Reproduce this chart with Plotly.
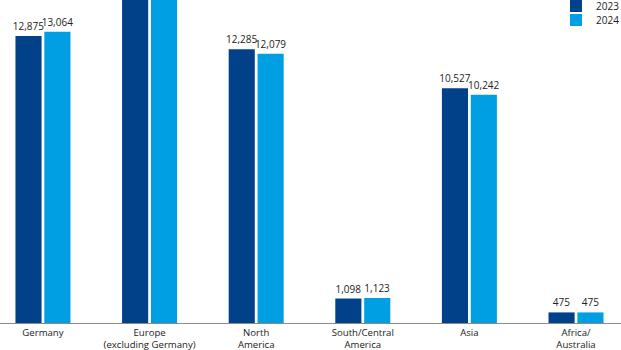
import plotly.graph_objects as go

categories = ["Germany", "Europe<br>(excluding Germany)", "North<br>America",
              "South/Central<br>America", "Asia", "Africa/<br>Australia"]
values_2023 = [12875, 19850, 12285, 1098, 10527, 475]
values_2024 = [13064, 20310, 12079, 1123, 10242, 475]
series_names = ["2023", "2024"]

COL_2023 = "#00418A"
COL_2024 = "#009FE3"
FONT = "Open Sans"
Y_MAX = 14490

xs = list(range(len(categories)))

def labels(vals):
    # labels of bars that run past the top of the visible area are not shown
    return [f"{v:,}" if v < Y_MAX * 0.93 else "" for v in vals]

fig = go.Figure()
fig.add_trace(go.Bar(
    x=xs, y=values_2023, name=series_names[0], marker_color=COL_2023,
    marker_line_width=0, width=0.245, offset=-0.258,
    text=labels(values_2023), textposition="outside", constraintext="none",
    textfont=dict(family=FONT, size=10, color="#222222"),
    cliponaxis=True, legend="legend",
))
fig.add_trace(go.Bar(
    x=xs, y=values_2024, name=series_names[1], marker_color=COL_2024,
    marker_line_width=0, width=0.245, offset=0.013,
    text=labels(values_2024), textposition="outside", constraintext="none",
    textfont=dict(family=FONT, size=10, color="#222222"),
    cliponaxis=True, legend="legend2",
))

legend_common = dict(
    xanchor="left", yanchor="middle", bgcolor="rgba(0,0,0,0)",
    font=dict(family=FONT, size=10, color="#222222"),
    itemwidth=30, borderwidth=0,
)

fig.update_layout(
    width=621, height=350,
    margin=dict(l=0, r=0, t=0, b=27, autoexpand=False),
    paper_bgcolor="white", plot_bgcolor="white",
    barmode="overlay",
    showlegend=True,
    legend=dict(x=0.8953, y=(323 - 6) / 323, **legend_common),
    legend2=dict(x=0.8953, y=(323 - 20) / 323, **legend_common),
    xaxis=dict(
        range=[-0.403, 5.422], tickmode="array", tickvals=xs, ticktext=categories,
        showline=True, linecolor="#8a8a8a", linewidth=1, showgrid=False,
        ticks="", zeroline=False, automargin=False,
        tickfont=dict(family=FONT, size=9.6, color="#222222"),
    ),
    yaxis=dict(
        range=[0, Y_MAX], visible=False, showgrid=False, zeroline=False,
    ),
)

fig.write_html("out.html")
